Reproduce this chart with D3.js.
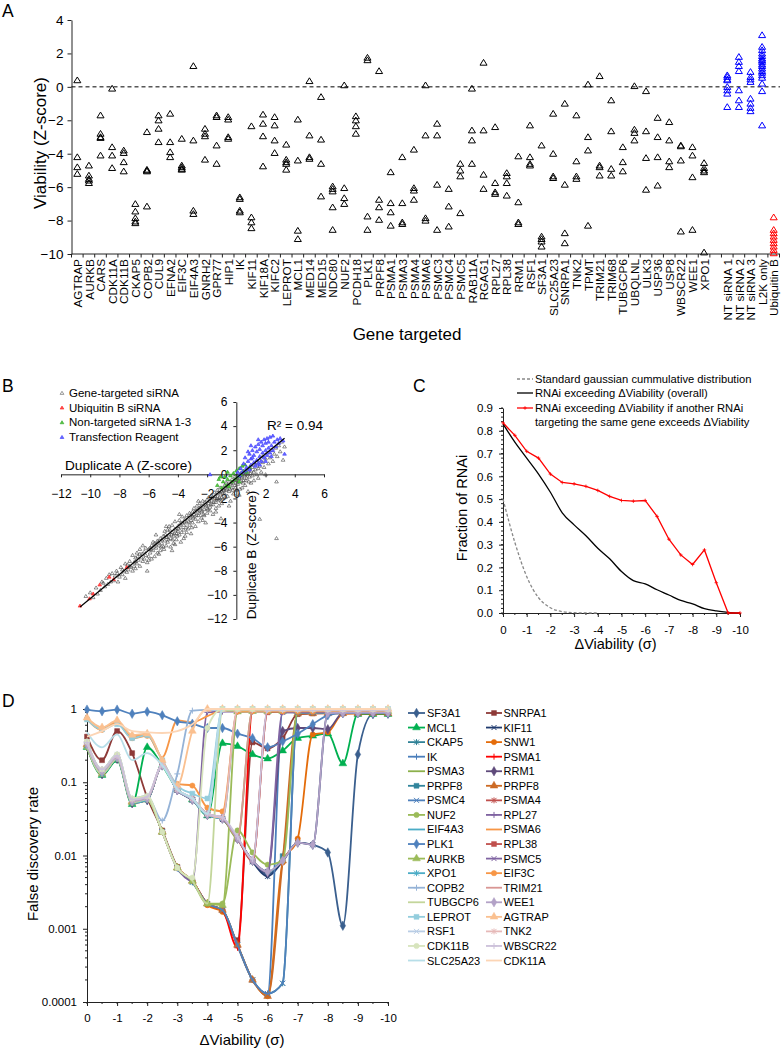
<!DOCTYPE html>
<html><head><meta charset="utf-8">
<script src="https://cdn.jsdelivr.net/npm/d3@7"></script>
<style>
body{margin:0;background:#fff}
svg{display:block;font-family:"Liberation Sans",Arial,Helvetica,sans-serif}
</style></head><body>
<svg id="c" width="781" height="1050"></svg>
<script>
// ================= DATA =================
// Panel A
const genes = ["AGTRAP","AURKB","CARS","CDK11A","CDK11B","CKAP5","COPB2","CUL9","EFNA2","EIF3C","EIF4A3","GNRH2","GPR77","HIP1","IK","KIF11","KIF18A","KIFC2","LEPROT","MCL1","MED14","MED15","NDC80","NUF2","PCDH18","PLK1","PRPF8","PSMA1","PSMA3","PSMA4","PSMA6","PSMC3","PSMC4","PSMC5","RAB11A","RGAG1","RPL27","RPL38","RRM1","RSF1","SF3A1","SLC25A23","SNRPA1","TNK2","TPMT","TRIM21","TRIM68","TUBGCP6","UBQLNL","ULK3","USP36","USP8","WBSCR22","WEE1","XPO1"];
const geneValues = [
 [0.4,-4.2,-4.8,-5.2],[-4.7,-5.3,-5.5,-5.6,-5.75],[-1.7,-2.8,-3.0,-3.05,-4.1],[-0.1,-3.6,-4.1,-4.85],
 [-3.8,-3.95,-4.5,-5.05],[-7.0,-7.45,-7.85,-8.05,-8.15],[-2.7,-4.95,-5.0,-5.05,-7.15],[-1.7,-2.0,-2.5,-3.3],
 [-1.6,-3.3,-3.9,-4.2],[-3.1,-4.7,-4.8,-4.9,-4.95],[1.25,-3.2,-7.4,-7.6],[-2.5,-2.8,-2.95,-4.35],
 [-1.7,-1.8,-3.5,-4.6],[-1.8,-1.95,-3.0,-3.1],[-6.6,-6.7,-7.4,-7.5],[-2.35,-7.8,-8.1,-8.45],
 [-1.65,-2.2,-2.95,-4.75],[-1.8,-2.3,-3.2,-3.95],[-3.45,-4.35,-4.5,-4.6,-4.95],[-1.95,-4.4,-8.6,-9.1],
 [0.35,-2.9,-4.2,-4.3],[-0.6,-3.15,-4.6,-6.55],[-5.95,-6.1,-6.25,-7.2,-8.55],[0.1,-6.05,-6.65,-7.0],
 [-1.75,-2.0,-2.35,-2.8],[1.75,1.6,-7.75,-8.55],[0.95,-6.75,-7.2,-7.95],[-5.1,-6.95,-7.5,-8.3],
 [-4.2,-6.95,-8.1,-8.2],[-3.75,-6.05,-6.2,-6.75],[0.1,-2.9,-7.85,-8.0],[-2.2,-2.9,-5.85,-8.55],
 [-6.1,-7.15,-8.35],[-4.6,-5.0,-5.35,-7.55],[-0.1,-2.6,-3.2,-4.6],[1.45,-2.6,-5.25,-6.1],
 [-2.4,-5.75,-6.3,-6.4],[-5.15,-5.35,-5.75,-6.5],[-4.15,-6.9,-8.1,-8.2],[-2.3,-4.2,-4.6,-4.7],
 [-3.5,-8.95,-9.1,-9.25,-9.55],[-1.6,-4.0,-5.35,-5.45],[-1.0,-5.85,-8.75,-9.35],[-1.7,-4.45,-5.35,-5.5],
 [0.15,-3.0,-3.8,-8.3],[0.65,-4.7,-4.8,-5.3],[-0.8,-2.65,-4.9,-5.3],[-3.6,-4.5,-5.05],
 [0.05,-2.55,-2.75,-3.2],[-0.25,-2.65,-4.25,-6.15],[-1.85,-3.0,-4.2,-5.9],[-2.1,-3.2,-4.45,-4.8],
 [-3.5,-3.55,-4.4,-8.65],[-3.6,-4.1,-5.4,-8.55],[-4.55,-4.85,-5.0,-5.1,-9.9]
];
const controls = ["NT siRNA 1","NT siRNA 2","NT siRNA 3","L2K only","Ubiquitin B"];
const controlColors = ["#0000ff","#0000ff","#0000ff","#0000ff","#ff0000"];
const controlValues = [
 [0.7,0.6,0.45,0.4,0.0,-0.2,-0.4,-1.2],
 [1.8,1.5,1.25,0.95,-0.2,-0.8,-1.2],
 [0.9,0.6,0.45,0.3,-0.7,-1.0,-1.25,-1.45],
 [3.1,2.4,2.2,2.0,1.85,1.7,1.6,1.5,1.35,1.25,1.1,0.95,0.85,0.7,0.55,0.2,-0.25,-2.3],
 [-7.8,-8.55,-8.75,-8.95,-9.15,-9.35,-9.55,-9.75,-9.95]
];
const yTicksA = [4,2,0,-2,-4,-6,-8,-10];

// Panel B (Duplicate A, Duplicate B)
const bGene = [
 [-10.3,-10.1],[-10.0,-9.8],[-9.8,-10.2],[-9.6,-9.4],[-9.5,-9.9],[-9.3,-9.6],[-9.2,-8.9],[-9.0,-9.3],[-8.9,-8.6],[-8.8,-9.1],
 [-8.6,-8.9],[-8.5,-8.2],[-8.4,-8.8],[-8.3,-8.4],[-8.2,-8.0],[-8.1,-8.9],[-8.0,-8.5],[-7.9,-7.7],[-7.8,-8.3],[-7.7,-8.0],
 [-7.6,-7.4],[-7.5,-8.1],[-7.4,-7.9],[-7.3,-7.2],[-7.2,-7.7],[-7.1,-8.0],[-7.0,-7.3],[-6.9,-7.8],[-6.9,-6.9],[-6.8,-7.4],
 [-6.7,-7.1],[-6.6,-6.6],[-6.6,-7.6],[-6.5,-6.9],[-6.4,-7.2],[-6.3,-6.4],[-6.3,-7.0],[-6.2,-6.7],[-6.1,-7.3],[-6.0,-6.2],
 [-6.0,-6.8],[-5.9,-6.5],[-5.8,-7.0],[-5.8,-5.9],[-5.7,-6.3],[-5.6,-6.8],[-5.6,-5.7],[-5.5,-6.1],[-5.4,-6.5],[-5.4,-5.5],
 [-5.3,-5.9],[-5.2,-6.3],[-5.2,-5.3],[-5.1,-5.7],[-5.0,-6.0],[-6.1,-8.0],[-4.2,-5.8],[-3.6,-5.3],[-7.6,-8.6],[-6.8,-6.5],
 [-5.0,-5.1],[-4.9,-5.5],[-4.9,-4.7],[-4.8,-5.9],[-4.8,-5.2],[-4.7,-4.6],[-4.7,-5.6],[-4.6,-5.0],[-4.6,-4.3],[-4.5,-5.3],
 [-4.5,-6.0],[-4.4,-4.8],[-4.4,-4.2],[-4.3,-5.1],[-4.3,-5.7],[-4.2,-4.5],[-4.2,-3.9],[-4.1,-4.9],[-4.1,-5.4],[-4.0,-4.3],
 [-4.0,-4.7],[-3.9,-3.8],[-3.9,-5.0],[-3.8,-4.4],[-3.8,-5.6],[-3.7,-4.0],[-3.7,-3.5],[-3.6,-4.6],[-3.6,-4.2],[-3.5,-3.7],
 [-3.5,-5.1],[-3.4,-3.4],[-3.4,-4.0],[-3.3,-4.5],[-3.3,-3.6],[-3.2,-3.2],[-3.2,-4.2],[-3.1,-3.8],[-3.1,-4.9],[-3.0,-3.1],
 [-3.0,-3.5],[-3.0,-4.0],[-2.9,-3.3],[-2.9,-2.8],[-2.8,-3.7],[-2.8,-4.3],[-2.7,-3.0],[-2.7,-2.6],[-2.6,-3.4],[-2.6,-3.9],
 [-2.5,-2.8],[-2.5,-2.4],[-2.4,-3.1],[-2.4,-3.6],[-2.3,-2.6],[-2.3,-2.2],[-2.2,-2.9],[-2.2,-3.4],[-2.1,-2.5],[-2.1,-4.0],
 [-2.0,-2.1],[-2.0,-2.8],[-2.0,-3.2],[-1.9,-2.4],[-1.9,-1.9],[-1.8,-2.7],[-1.8,-3.0],[-1.7,-2.2],[-1.7,-1.7],[-1.6,-2.5],
 [-1.6,-3.3],[-1.5,-2.0],[-1.5,-1.5],[-1.4,-2.3],[-1.4,-2.8],[-1.3,-1.8],[-1.3,-1.3],[-1.2,-2.1],[-1.2,-2.6],[-1.1,-1.6],
 [-1.1,-1.1],[-1.0,-1.9],[-1.0,-2.4],[-1.0,-1.4],[-1.05,-3.65],[-0.9,-1.2],[-0.9,-2.0],[-0.8,-0.9],[-0.8,-1.6],[-0.7,-1.3],
 [-0.7,-0.7],[-0.6,-1.8],[-0.6,-1.0],[-0.5,-0.6],[-0.5,-1.4],[-0.4,-0.8],[-0.4,-2.2],[-0.3,-0.4],[-0.3,-1.1],[-0.2,-0.7],
 [-0.2,-1.6],[-0.1,-0.2],[-0.1,-0.9],[0.0,-0.5],[0.0,-1.3],[0.1,-0.1],[0.1,-0.8],[0.2,-0.3],[0.2,-1.7],[0.3,0.1],
 [0.3,-0.6],[0.4,-0.2],[0.4,-1.1],[0.5,0.2],[0.5,-0.5],[0.6,0.0],[0.6,-0.9],[0.7,0.4],[0.7,-0.3],[0.8,0.1],
 [0.8,-1.4],[0.9,0.5],[0.9,-0.2],[1.0,0.3],[1.0,-0.7],[1.1,0.6],[1.1,-0.1],[1.2,0.2],[1.2,-0.5],[1.3,0.8],
 [1.3,0.4],[1.4,0.0],[1.4,1.0],[1.5,0.5],[1.5,-0.3],[1.6,1.2],[1.6,0.7],[1.7,0.2],[1.8,1.0],[1.8,1.5],
 [1.9,0.6],[2.0,1.3],[2.0,0.0],[2.1,1.8],[2.2,0.9],[2.3,1.4],[2.4,2.0],[2.5,1.1],[2.6,1.7],[2.7,2.2],
 [2.8,1.5],[2.9,2.4],[3.0,1.9],[3.1,2.7],[3.2,1.2],[3.3,2.3],[2.75,-5.3],[1.6,-3.7],[2.75,-0.6],[-2.6,-2.2],
 [-3.9,-3.3],[-4.8,-4.3],[-5.5,-5.0],[-6.4,-5.9],[-7.1,-6.7],[-2.3,-3.8],[-1.4,-3.1],[-0.5,-2.6],[-3.4,-4.8],[-4.4,-6.3],
 [-5.9,-6.1],[-5.7,-5.6],[-5.5,-5.8],[-5.3,-6.6],[-5.1,-5.4],[-4.95,-6.2],[-4.85,-5.0],[-4.65,-5.4],[-4.55,-4.6],[-4.35,-5.4],
 [-4.25,-4.9],[-4.05,-5.1],[-3.95,-4.5],[-3.85,-4.1],[-3.75,-4.8],[-3.55,-3.9],[-3.45,-4.4],[-3.25,-3.9],[-3.15,-3.4],[-3.05,-4.4],
 [-2.95,-3.6],[-2.85,-3.1],[-2.75,-3.4],[-2.65,-2.9],[-2.55,-3.2],[-2.45,-2.7],[-2.35,-3.0],[-2.25,-3.3],[-2.15,-2.3],[-2.05,-2.6],
 [-1.95,-2.9],[-1.85,-2.2],[-1.75,-2.5],[-1.65,-1.9],[-1.55,-2.3],[-1.45,-1.8],[-1.35,-2.1],[-1.25,-1.5],[-1.15,-1.9],[-1.05,-2.2],
 [-0.95,-1.5],[-0.85,-1.3],[-0.75,-1.9],[-0.65,-1.2],[-0.55,-0.9],[-0.45,-1.2],[-0.35,-0.7],[-0.25,-1.3],[-0.15,-0.5],[-0.05,-1.1],
 [0.05,-0.3],[0.15,-0.6],[0.25,-1.2],[0.35,-0.3],[0.45,-0.7],[0.55,-0.1],[0.65,-0.5],[0.75,0.0],[0.85,-0.6],[0.95,0.1],
 [-6.6,-6.2],[-6.2,-6.1],[-6.0,-7.1],[-5.85,-6.2],[-5.65,-6.0],[-5.35,-5.6],[-5.15,-6.0],[-4.75,-5.2],[-4.45,-5.0],[-4.15,-4.6],
 [-7.3,-7.6],[-7.0,-7.6],[-6.75,-6.8],[-6.45,-6.6],[-7.8,-7.9],[-8.7,-8.3],[-9.1,-9.0],[-8.15,-8.2],[-6.9,-7.2],[-7.45,-7.5]
];
const bUbiquitin = [[-10.7,-10.9],[-10.05,-10.3],[-9.8,-9.9],[-9.35,-9.15],[-8.7,-8.5],[-8.4,-8.7],[-7.5,-7.7]];
const bNonTargeted = [[-1.3,-0.9],[-1.2,-0.4],[-1.0,-1.1],[-0.9,-0.6],[-0.8,-0.2],[-0.7,-0.9],[-0.6,-0.4],[-0.5,-1.0],[-0.4,-0.1],[-0.3,-0.6],[-0.2,0.1],[-0.1,-0.4],[0.0,0.3],[0.1,-0.2],[0.2,0.5],[0.3,0.0],[0.4,0.7],[0.5,0.3],[0.6,0.8],[0.7,0.2],[-0.6,0.2],[0.2,-0.6],[-1.1,-0.2],[0.9,0.6]];
const bReagent = [[0.3,0.5],[0.5,0.9],[0.6,1.4],[0.7,0.6],[0.8,1.1],[0.9,1.7],[1.0,0.8],[1.0,1.3],[1.1,2.0],[1.2,1.0],[1.2,1.6],[1.3,2.3],[1.4,1.2],[1.4,1.9],[1.5,0.9],[1.5,2.5],[1.6,1.5],[1.6,2.1],[1.7,2.7],[1.7,1.1],[1.8,1.8],[1.8,2.4],[1.9,1.4],[1.9,2.9],[2.0,2.0],[2.0,2.6],[2.1,1.6],[2.1,3.0],[2.2,2.2],[2.2,2.7],[2.3,1.8],[2.3,3.1],[2.4,2.4],[2.5,3.2],[2.5,2.0],[2.6,2.7],[2.7,2.3],[2.8,2.9],[2.9,2.6],[3.0,3.0],[3.2,2.8],[3.3,1.7],[0.4,0.2],[0.9,0.4],[1.3,0.7],[0.2,-0.1],[0.6,0.3],[1.1,1.4],[1.6,0.8],[2.4,1.5],[0.8,1.9],[1.0,2.4],[1.5,2.9],[-1.8,0.0],[0.1,0.2],[2.0,1.1]];
const bTrend = [[-10.7,-11.0],[3.3,3.0]];
const bTicks = [-12,-10,-8,-6,-4,-2,0,2,4,6];
const bLegend = ["Gene-targeted siRNA","Ubiquitin B siRNA","Non-targeted siRNA 1-3","Transfection Reagent"];

// Panel C
const cDelta = [0,-0.5,-1,-1.5,-2,-2.5,-3,-3.5,-4,-4.5,-5,-5.5,-6,-6.5,-7,-7.5,-8,-8.5,-9,-9.5,-10];
const cGauss = [0.5,0.31,0.16,0.067,0.023,0.006,0.0013,0.0002,0.0];
const cOverall = [0.83,0.75,0.68,0.61,0.53,0.44,0.387,0.339,0.284,0.238,0.182,0.142,0.128,0.102,0.079,0.055,0.04,0.019,0.009,0.003,0.0];
const cSameGene = [0.835,0.78,0.71,0.68,0.61,0.573,0.567,0.556,0.538,0.512,0.494,0.491,0.494,0.424,0.324,0.255,0.213,0.277,0.133,0.0,0.0];
const cYTicks = [0,0.1,0.2,0.3,0.4,0.5,0.6,0.7,0.8,0.9];
const cXTicks = [0,-1,-2,-3,-4,-5,-6,-7,-8,-9,-10];

// Panel D
const dDelta = [0,-0.5,-1,-1.5,-2,-2.5,-3,-3.5,-4,-4.5,-5,-5.5,-6,-6.5,-7,-7.5,-8,-8.5,-9,-9.5,-10];
const dNames = ["SF3A1","SNRPA1","MCL1","KIF11","CKAP5","SNW1","IK","PSMA1","PSMA3","RRM1","PRPF8","PRPF8","PSMC4","PSMA4","NUF2","RPL27","EIF4A3","PSMA6","PLK1","RPL38","AURKB","PSMC5","XPO1","EIF3C","COPB2","TRIM21","TUBGCP6","WEE1","LEPROT","AGTRAP","RSF1","TNK2","CDK11B","WBSCR22","SLC25A23","CDK11A"];
const dColors = ["#3a5f8e","#8e3a38","#00b050","#1f3a6e","#2f8196","#e46c0a","#4a7ebb","#ff0000","#8cb04b","#5f4a7b","#31859c","#cc6a24","#4f81bd","#c0504d","#9bbb59","#7f63a1","#4bacc6","#f79646","#4f81bd","#c0504d","#9bbb59","#8064a2","#4bacc6","#f79646","#95b3d7","#d99694","#c3d69b","#b3a2c7","#93cddd","#fac090","#b9cde5","#e6b9b8","#d7e4bd","#ccc1da","#b7dee8","#fcd5b5"];
const dMarkers = ["diamond","square","triangle","x","star","circle","plus","plus","none","diamond","square","triangle","x","star","circle","plus","none","none","diamond","square","triangle","x","star","circle","plus","none","none","diamond","square","triangle","x","star","circle","plus","none","none"];
const dValues = [
 [0.31,0.13,0.21,0.052,0.057,0.17,0.078,0.058,0.036,0.032,0.017,0.0085,0.0055,0.0085,0.015,0.014,0.011,0.0011,0.24,0.85,0.86],
 [0.42,0.2,0.5,0.25,0.062,0.022,0.007,0.0045,0.0022,0.0018,0.0007,0.35,0.29,0.4,0.85,0.87,0.88,0.88,0.88,0.88,0.88],
 [0.3,0.125,0.2,0.05,0.3,0.17,0.08,0.058,0.035,0.34,0.31,0.24,0.21,0.27,0.4,0.43,0.46,0.18,0.85,0.85,0.85],
 [0.32,0.13,0.21,0.053,0.058,0.17,0.078,0.057,0.036,0.031,0.017,0.0082,0.0052,0.0083,0.015,0.014,0.87,0.88,0.88,0.88,0.88],
 [0.33,0.14,0.22,0.055,0.06,0.021,0.0068,0.0043,0.0022,0.0018,0.0006,0.0002,0.00013,0.00018,0.9,0.9,0.9,0.9,0.9,0.9,0.9],
 [0.34,0.14,0.22,0.056,0.06,0.021,0.0069,0.0045,0.0021,0.0017,0.0006,0.0002,0.00012,0.008,0.017,0.45,0.48,0.86,0.87,0.87,0.87],
 [0.32,0.14,0.22,0.055,0.06,0.021,0.0066,0.0044,0.0022,0.0018,0.00058,0.0002,0.00013,0.9,0.9,0.9,0.9,0.9,0.9,0.9,0.9],
 [0.33,0.14,0.22,0.055,0.06,0.021,0.0068,0.0045,0.0022,0.0018,0.00055,0.94,0.95,0.95,0.95,0.95,0.95,0.95,0.95,0.95,0.95],
 [0.3,0.13,0.21,0.052,0.057,0.17,0.078,0.058,0.036,0.032,0.017,0.95,0.96,0.96,0.96,0.96,0.96,0.96,0.96,0.96,0.96],
 [0.31,0.13,0.21,0.052,0.058,0.17,0.078,0.058,0.036,0.032,0.017,0.0085,0.0058,0.5,0.55,0.55,0.53,0.88,0.88,0.88,0.88],
 [0.32,0.13,0.21,0.053,0.058,0.17,0.079,0.058,0.036,0.032,0.017,0.0085,0.006,0.0098,0.88,0.9,0.9,0.9,0.9,0.9,0.9],
 [0.33,0.14,0.22,0.055,0.06,0.021,0.0068,0.0045,0.0022,0.0018,0.0006,0.0002,0.00012,0.0085,0.86,0.87,0.87,0.87,0.87,0.87,0.87],
 [0.32,0.135,0.215,0.054,0.059,0.021,0.0068,0.0044,0.0022,0.0018,0.0006,0.0002,0.00013,0.00018,0.88,0.88,0.88,0.88,0.88,0.88,0.88],
 [0.33,0.14,0.22,0.055,0.06,0.17,0.078,0.058,0.036,0.032,0.017,0.0085,0.92,0.93,0.93,0.93,0.93,0.93,0.93,0.93,0.93],
 [0.3,0.13,0.21,0.052,0.058,0.021,0.0068,0.0045,0.0022,0.0022,0.022,0.011,0.0075,0.0085,0.9,0.9,0.9,0.9,0.9,0.9,0.9],
 [0.33,0.14,0.22,0.055,0.06,0.021,0.0068,0.0045,0.9,0.92,0.92,0.92,0.92,0.92,0.92,0.92,0.92,0.92,0.92,0.92,0.92],
 [0.32,0.13,0.21,0.053,0.058,0.17,0.078,0.058,0.036,0.95,0.95,0.95,0.95,0.95,0.95,0.95,0.95,0.95,0.95,0.95,0.95],
 [0.75,0.55,0.68,0.42,0.45,0.22,0.7,0.66,0.8,0.95,0.95,0.95,0.95,0.95,0.95,0.95,0.95,0.95,0.95,0.95,0.95],
 [0.98,0.93,0.98,0.86,0.92,0.82,0.68,0.63,0.55,0.55,0.46,0.4,0.3,0.36,0.46,0.62,0.82,0.88,0.88,0.88,0.88],
 [0.34,0.14,0.22,0.056,0.06,0.17,0.079,0.059,0.037,0.032,0.017,0.0086,0.9,0.92,0.92,0.92,0.92,0.92,0.92,0.92,0.92],
 [0.31,0.13,0.21,0.053,0.058,0.021,0.0068,0.0045,0.0022,0.0021,0.92,0.93,0.93,0.93,0.93,0.93,0.93,0.93,0.93,0.93,0.93],
 [0.32,0.13,0.21,0.053,0.058,0.17,0.078,0.058,0.036,0.032,0.017,0.0085,0.006,0.9,0.9,0.9,0.9,0.9,0.9,0.9,0.9],
 [0.31,0.13,0.21,0.052,0.058,0.17,0.078,0.058,0.036,0.032,0.93,0.94,0.94,0.94,0.94,0.94,0.94,0.94,0.94,0.94,0.94],
 [0.73,0.52,0.64,0.4,0.43,0.2,0.095,0.09,0.045,0.04,0.92,0.93,0.93,0.93,0.93,0.93,0.93,0.93,0.93,0.93,0.93],
 [0.36,0.15,0.24,0.06,0.065,0.03,0.13,0.95,0.97,0.97,0.97,0.97,0.97,0.97,0.97,0.97,0.97,0.97,0.97,0.97,0.97],
 [0.34,0.14,0.22,0.056,0.06,0.17,0.08,0.06,0.037,0.033,0.018,0.95,0.95,0.95,0.95,0.95,0.95,0.95,0.95,0.95,0.95],
 [0.31,0.13,0.21,0.053,0.058,0.021,0.0068,0.0045,0.0022,0.95,0.96,0.96,0.96,0.96,0.96,0.96,0.96,0.96,0.96,0.96,0.96],
 [0.33,0.14,0.22,0.055,0.06,0.17,0.078,0.058,0.036,0.032,0.017,0.0085,0.006,0.0085,0.015,0.014,0.88,0.89,0.89,0.89,0.89],
 [0.72,0.53,0.62,0.4,0.44,0.2,0.09,0.07,0.06,1,1,1,1,1,1,1,1,1,1,1,1],
 [0.76,0.56,0.7,0.44,0.46,0.2,0.09,0.5,1,1,1,1,1,1,1,1,1,1,1,1,1],
 [0.36,0.15,0.24,0.06,0.065,0.17,0.08,0.06,0.037,1,1,1,1,1,1,1,1,1,1,1,1],
 [0.35,0.15,0.23,0.058,0.063,0.17,0.08,0.06,0.037,0.033,0.98,0.98,0.98,0.98,0.98,0.98,0.98,0.98,0.98,0.98,0.98],
 [0.36,0.15,0.24,0.06,0.065,0.021,0.0068,0.005,0.55,1,1,1,1,1,1,1,1,1,1,1,1],
 [0.35,0.15,0.23,0.058,0.063,0.17,0.08,0.06,0.037,0.033,0.018,0.009,0.97,0.97,0.97,0.97,0.97,0.97,0.97,0.97,0.97],
 [0.48,0.3,0.45,0.2,0.25,0.17,0.08,0.06,0.037,0.99,1,1,1,1,1,1,1,1,1,1,1],
 [0.42,0.5,0.62,0.5,0.48,0.47,0.5,0.62,1,1,1,1,1,1,1,1,1,1,1,1,1]
];
const dYTicks = [1,0.1,0.01,0.001,0.0001];
const dYLabels = ["1","0.1","0.01","0.001","0.0001"];
const dXTicks = [0,-1,-2,-3,-4,-5,-6,-7,-8,-9,-10];

// ================= DRAW =================
const svg = d3.select("#c");
const FONT = '"Liberation Sans", Arial, Helvetica, sans-serif';
const AX = "#222";

function styleAxis(g, fs){
  g.attr("font-family", FONT).attr("font-size", fs);
  g.selectAll("text").attr("fill","#000");
  g.selectAll("line").attr("stroke", AX);
  g.select(".domain").attr("stroke", AX);
}
function triPath(r){ return `M0,${-r}L${r*1.1},${r*0.8}L${-r*1.1},${r*0.8}Z`; }
function panelLabel(t,x,y){ svg.append("text").attr("x",x).attr("y",y).attr("font-size",17.5).text(t); }

// ---------- Panel A ----------
panelLabel("A",2,17);
const slots = genes.concat([" "], controls);
const xA = d3.scaleBand().domain(slots).range([71.5, 779.5]).padding(0);
const yA = d3.scaleLinear().domain([-10,4]).range([254,20]);
const gA = svg.append("g");
gA.append("g").attr("transform","translate(71.5,0)")
  .call(d3.axisLeft(yA).tickValues(yTicksA).tickSize(4).tickPadding(4).tickSizeOuter(0))
  .call(g=>styleAxis(g,13.5));
gA.append("line").attr("x1",71.5).attr("x2",780).attr("y1",yA(-10)).attr("y2",yA(-10)).attr("stroke",AX);
const bw = xA.bandwidth();
gA.append("g").selectAll("line").data(d3.range(slots.length+1)).join("line")
  .attr("x1",i=>xA.range()[0]+i*bw).attr("x2",i=>xA.range()[0]+i*bw)
  .attr("y1",yA(-10)).attr("y2",yA(-10)+3.5).attr("stroke",AX);
gA.append("line").attr("x1",71.5).attr("x2",780).attr("y1",yA(0)).attr("y2",yA(0))
  .attr("stroke","#000").attr("stroke-dasharray","4,3");
gA.append("g").selectAll("text").data(slots.filter(s=>s!==" ")).join("text")
  .attr("transform",d=>`translate(${xA(d)+bw/2+0.5},${yA(-10)+5}) rotate(-90)`)
  .attr("text-anchor","end").attr("dy","0.35em").attr("font-size",11.8).text(d=>d);
svg.append("text").attr("x",407).attr("y",340).attr("text-anchor","middle").attr("font-size",17).text("Gene targeted");
svg.append("text").attr("transform","translate(45.5,143) rotate(-90)").attr("text-anchor","middle").attr("font-size",17).text("Viability (Z-score)");
const aPts = [];
genes.forEach((g,i)=>geneValues[i].forEach(v=>aPts.push({k:g,v,c:"#000"})));
controls.forEach((g,i)=>controlValues[i].forEach(v=>aPts.push({k:g,v,c:controlColors[i]})));
gA.append("g").selectAll("path").data(aPts).join("path")
  .attr("transform",d=>`translate(${xA(d.k)+bw/2},${yA(d.v)})`)
  .attr("d",triPath(3.2)).attr("fill","none").attr("stroke",d=>d.c).attr("stroke-width",1);

// ---------- Panel B ----------
panelLabel("B",2,392);
const xB = d3.scaleLinear().domain([-12,6]).range([61,324]);
const yB = d3.scaleLinear().domain([-12,6]).range([619,402]);
const gB = svg.append("g");
gB.append("g").attr("transform",`translate(0,${yB(0)})`)
  .call(d3.axisBottom(xB).tickValues(bTicks).tickSize(3).tickPadding(12).tickSizeOuter(0))
  .call(g=>styleAxis(g,12));
gB.append("g").attr("transform",`translate(${xB(0)},0)`)
  .call(d3.axisLeft(yB).tickValues(bTicks).tickSize(3).tickPadding(6).tickSizeOuter(0))
  .call(g=>styleAxis(g,12));
svg.append("text").attr("x",65).attr("y",470).attr("font-size",13.6).text("Duplicate A (Z-score)");
svg.append("text").attr("transform","translate(255.5,555) rotate(-90)").attr("text-anchor","middle").attr("font-size",13.6).text("Duplicate B (Z-score)");
svg.append("text").attr("x",267).attr("y",429.5).attr("font-size",13.5).text("R² = 0.94");
function scatter(data, stroke, fill){
  gB.append("g").selectAll("path").data(data).join("path")
    .attr("transform",d=>`translate(${xB(d[0])},${yB(d[1])})`)
    .attr("d",triPath(1.7)).attr("fill",fill).attr("stroke",stroke).attr("stroke-width",0.6);
}
scatter(bGene,"#444","none");
scatter(bNonTargeted,"#2ca02c","#5ccc3c");
scatter(bReagent,"#3030ff","#6f6fff");
scatter(bUbiquitin,"#ff2020","#ff5050");
gB.append("path").attr("d",d3.line().x(d=>xB(d[0])).y(d=>yB(d[1]))(bTrend)).attr("stroke","#000").attr("stroke-width",1.2).attr("fill","none");
const bLegCols = [["#555","none"],["#ff2020","#ff5050"],["#2ca02c","#5ccc3c"],["#3030ff","#6f6fff"]];
bLegend.forEach((t,i)=>{
  const y = 393 + i*14.7;
  svg.append("path").attr("transform",`translate(62,${y})`).attr("d",triPath(1.7))
    .attr("fill",bLegCols[i][1]).attr("stroke",bLegCols[i][0]).attr("stroke-width",0.6);
  svg.append("text").attr("x",69).attr("y",y+4).attr("font-size",11.5).text(t);
});

// ---------- Panel C ----------
panelLabel("C",413,392);
const xC = d3.scaleLinear().domain([0,-10]).range([503,740]);
const yC = d3.scaleLinear().domain([0,0.9]).range([613,408]);
const gC = svg.append("g");
gC.append("g").selectAll("line").data(d3.range(0,0.9001,0.02)).join("line")
  .attr("x1",503).attr("x2",501).attr("y1",d=>yC(d)).attr("y2",d=>yC(d)).attr("stroke",AX);
gC.append("g").selectAll("line").data(d3.range(0,10.01,0.5).map(d=>-d)).join("line")
  .attr("x1",d=>xC(d)).attr("x2",d=>xC(d)).attr("y1",613).attr("y2",615).attr("stroke",AX);
gC.append("g").attr("transform","translate(503,0)")
  .call(d3.axisLeft(yC).tickValues(cYTicks).tickFormat(d3.format(".1f")).tickSize(4).tickPadding(6).tickSizeOuter(0))
  .call(g=>styleAxis(g,11.5));
gC.append("g").attr("transform","translate(0,613)")
  .call(d3.axisBottom(xC).tickValues(cXTicks).tickFormat(d=>d===0?"0":String(d)).tickSize(4).tickPadding(9).tickSizeOuter(0))
  .call(g=>styleAxis(g,11.5));
svg.append("text").attr("x",615.5).attr("y",649).attr("text-anchor","middle").attr("font-size",14.5).text("ΔViability (σ)");
svg.append("text").attr("transform","translate(467,508) rotate(-90)").attr("text-anchor","middle").attr("font-size",14.5).text("Fraction of RNAi");
const lineC = d3.line().x((d,i)=>xC(cDelta[i])).y(d=>yC(d));
gC.append("path").attr("d",lineC.curve(d3.curveMonotoneX)(cGauss)).attr("fill","none").attr("stroke","#888").attr("stroke-width",1.3).attr("stroke-dasharray","3,2");
gC.append("path").attr("d",lineC.curve(d3.curveMonotoneX)(cOverall)).attr("fill","none").attr("stroke","#000").attr("stroke-width",1.3);
gC.append("path").attr("d",lineC.curve(d3.curveLinear)(cSameGene)).attr("fill","none").attr("stroke","#ff0000").attr("stroke-width",1.3);
gC.append("g").selectAll("path").data(cSameGene).join("path")
  .attr("transform",(d,i)=>`translate(${xC(cDelta[i])},${yC(d)})`)
  .attr("d","M-1.8,0H1.8M0,-1.8V1.8").attr("stroke","#ff0000").attr("stroke-width",0.8);
// legend C
const legC = [[383,"Standard gaussian cummulative distribution"],[397,"RNAi exceeding  ΔViability (overall)"],[412,"RNAi exceeding ΔViability if another RNAi"],[426,"targeting the same gene exceeds ΔViability"]];
legC.forEach(([y,t])=>svg.append("text").attr("x",535).attr("y",y).attr("font-size",11.2).text(t));
svg.append("line").attr("x1",517).attr("x2",533).attr("y1",379).attr("y2",379).attr("stroke","#888").attr("stroke-width",1.3).attr("stroke-dasharray","3,2");
svg.append("line").attr("x1",517).attr("x2",533).attr("y1",393).attr("y2",393).attr("stroke","#000").attr("stroke-width",1.3);
svg.append("line").attr("x1",517).attr("x2",533).attr("y1",408).attr("y2",408).attr("stroke","#ff0000").attr("stroke-width",1.3);
svg.append("path").attr("d","M523.2,408H526.8M525,406.2V409.8").attr("stroke","#ff0000").attr("stroke-width",0.8);

// ---------- Panel D ----------
panelLabel("D",2,707);
const xD = d3.scaleLinear().domain([0,-10]).range([87,388]);
const yD = d3.scaleLog().domain([0.0001,1]).range([1002,709]);
const gD = svg.append("g");
const minorD = [];
[0.0001,0.001,0.01,0.1].forEach(b=>[2,3,4,5,6,7,8,9].forEach(m=>minorD.push(b*m)));
gD.append("g").selectAll("line").data(minorD).join("line")
  .attr("x1",87).attr("x2",85).attr("y1",d=>yD(d)).attr("y2",d=>yD(d)).attr("stroke",AX);
gD.append("g").selectAll("line").data(dDelta).join("line")
  .attr("x1",d=>xD(d)).attr("x2",d=>xD(d)).attr("y1",1002).attr("y2",1004).attr("stroke",AX);
gD.append("g").attr("transform","translate(87,0)")
  .call(d3.axisLeft(yD).tickValues(dYTicks).tickFormat((d,i)=>dYLabels[i]).tickSize(4).tickPadding(6).tickSizeOuter(0))
  .call(g=>styleAxis(g,11.5));
gD.append("g").attr("transform","translate(0,1002)")
  .call(d3.axisBottom(xD).tickValues(dXTicks).tickFormat(d=>d===0?"0":String(d)).tickSize(4).tickPadding(8).tickSizeOuter(0))
  .call(g=>styleAxis(g,11.5));
svg.append("text").attr("x",242).attr("y",1045).attr("text-anchor","middle").attr("font-size",15).text("ΔViability (σ)");
svg.append("text").attr("transform","translate(38,854) rotate(-90)").attr("text-anchor","middle").attr("font-size",15).text("False discovery rate");

function markerPath(m){
  switch(m){
    case "diamond": return d3.symbol(d3.symbolDiamond,26)();
    case "square": return d3.symbol(d3.symbolSquare,24)();
    case "triangle": return d3.symbol(d3.symbolTriangle,26)();
    case "circle": return d3.symbol(d3.symbolCircle,22)();
    case "x": return "M-2.5,-2.5L2.5,2.5M-2.5,2.5L2.5,-2.5";
    case "star": return "M-2.5,-2.5L2.5,2.5M-2.5,2.5L2.5,-2.5M0,-3V3";
    case "plus": return "M-3,0H3M0,-3V3";
  }
  return null;
}
function isStrokeMarker(m){ return m==="x"||m==="star"||m==="plus"; }
const lineD = d3.line().x((d,i)=>xD(dDelta[i])).y(d=>yD(d)).curve(d3.curveMonotoneX);
dValues.forEach((vals,s)=>{
  const col = dColors[s], m = dMarkers[s];
  gD.append("path").attr("d",lineD(vals)).attr("fill","none").attr("stroke",col).attr("stroke-width",1.8);
  if(m!=="none"){
    gD.append("g").selectAll("path").data(vals).join("path")
      .attr("transform",(d,i)=>`translate(${xD(dDelta[i])},${yD(d)})`)
      .attr("d",markerPath(m))
      .attr("fill",isStrokeMarker(m)?"none":col).attr("stroke",col).attr("stroke-width",isStrokeMarker(m)?1:0.5);
  }
});
// legend D
dNames.forEach((n,s)=>{
  const col = s%2, row = Math.floor(s/2);
  const y = 713 + row*14.56;
  const x0 = col===0 ? 408 : 486, x1 = col===0 ? 425 : 502, tx = col===0 ? 427 : 503.5;
  svg.append("line").attr("x1",x0).attr("x2",x1).attr("y1",y).attr("y2",y).attr("stroke",dColors[s]).attr("stroke-width",1.8);
  const m = dMarkers[s];
  if(m!=="none"){
    svg.append("path").attr("transform",`translate(${(x0+x1)/2},${y})`).attr("d",markerPath(m))
      .attr("fill",isStrokeMarker(m)?"none":dColors[s]).attr("stroke",dColors[s]).attr("stroke-width",isStrokeMarker(m)?1:0.5);
  }
  svg.append("text").attr("x",tx).attr("y",y+4).attr("font-size",11).text(n);
});
</script>
</body></html>
